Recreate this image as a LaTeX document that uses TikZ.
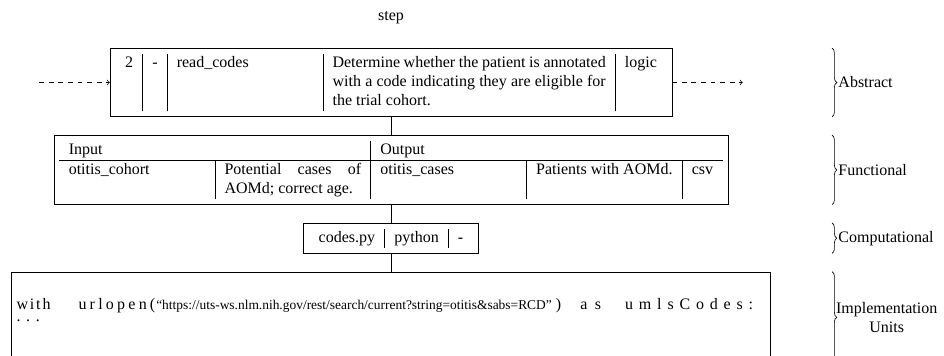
\documentclass[tikz,border=0pt]{standalone}
\usepackage{fontspec}
\setmainfont{Liberation Serif}
\usetikzlibrary{positioning}
\usetikzlibrary{decorations.pathreplacing}

\newcommand{\spreadword}[2]{\makebox[#1][s]{#2}}

\begin{document}
\begin{tikzpicture}[x=0.625pt, y=-0.625pt,
    layerbox/.style={draw},
    codebox/.style={draw},
    link/.style={thin},
    flowarrow/.style={->, dashed},
    levelbrace/.style={decorate, decoration={brace, amplitude=3pt}},
    levellabel/.style={midway, right, xshift=0.5pt, align=center},
]
\useasboundingbox (0,0) rectangle (944,356);
\clip (0,0) rectangle (944,356);

\node[layerbox] (abstract) at (391,82.5) {\begin{tabular}{c|c|p{3cm}|p{6cm}|l}
2 & - & read\_codes & Determine whether the patient is annotated with a code indicating they are eligible for the trial cohort. & logic
\end{tabular} };
\node[above=0.4cm of abstract] (steplabel) {step};
\node[layerbox, below=0.4cm of abstract] (functional) {\begin{tabular}{p{3cm}|p{3cm}|p{3cm}|p{3cm}|c}
\multicolumn{2}{l|}{Input} & \multicolumn{3}{l}{Output} \\ \hline
otitis\_cohort & Potential cases of AOMd; correct age. & otitis\_cases & Patients with AOMd. & csv
\end{tabular} };
\node[layerbox, below=0.4cm of functional] (computational) {\begin{tabular}{c|c|c}
codes.py & python & -
\end{tabular} };
\node[codebox, below=0.4cm of computational] (implementation) {\parbox[t][50pt][t]{468pt}{\vspace*{13.5pt}%
\mbox{\spreadword{21.2pt}{w\hfill i\hfill t\hfill h}\hspace{17.5pt}\spreadword{48pt}{u\hfill r\hfill l\hfill o\hfill p\hfill e\hfill n\hfill (}\hspace{0.6pt}{\fontsize{8.4pt}{10pt}\selectfont “https://uts-ws.nlm.nih.gov/rest/search/current?string=otitis\&sabs=RCD”}\hspace{2.5pt})\hspace{12pt}\spreadword{13pt}{a\hfill s}\hspace{15pt}\spreadword{80pt}{u\hfill m\hfill l\hfill s\hfill C\hfill o\hfill d\hfill e\hfill s\hfill :}}\\[-5pt]
\makebox[6pt][l]{.}\makebox[6pt][l]{.}\makebox[6pt][l]{.}}};

% steps before and after this one
\coordinate[left=1.55cm of abstract.west] (prevstep);
\coordinate[right=1.55cm of abstract.east] (nextstep);
\draw[flowarrow] (prevstep) -- (abstract);
\draw[flowarrow] (abstract) -- (nextstep);

\draw[link] (abstract) -- (functional);
\draw[link] (functional) -- (computational);
\draw[link] (computational) -- (implementation);

% braces naming the levels
\coordinate (bracex) at (832,0);
\draw[levelbrace] (abstract.north -| bracex) -- (abstract.south -| bracex) node[levellabel] {Abstract};
\draw[levelbrace] (functional.north -| bracex) -- (functional.south -| bracex) node[levellabel] {Functional};
\draw[levelbrace] (computational.north -| bracex) -- (computational.south -| bracex) node[levellabel] {Computational};
\draw[levelbrace] (implementation.north -| bracex) -- (implementation.south -| bracex) node[levellabel, xshift=-1.5pt] {Implementation\\Units};

\end{tikzpicture}
\end{document}
